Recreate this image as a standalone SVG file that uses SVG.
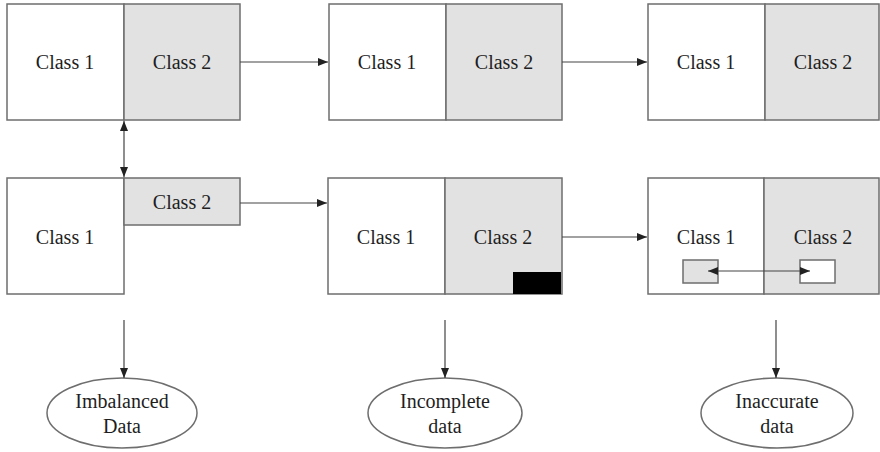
<svg xmlns="http://www.w3.org/2000/svg" width="880" height="452" viewBox="0 0 880 452">
<style>
.b{stroke:#6e6e6e;stroke-width:1.5;fill:#fff}
.g{stroke:#6e6e6e;stroke-width:1.5;fill:#e2e2e2}
.t{font-family:"Liberation Serif","Times New Roman",serif;font-size:20px;fill:#1e1e1e;text-anchor:middle}
.c{stroke:#444;stroke-width:1.2;fill:none}
</style>
<defs>
<marker id="ah" viewBox="0 0 10 8" refX="10" refY="4" markerWidth="10" markerHeight="8" markerUnits="userSpaceOnUse" orient="auto-start-reverse">
<path d="M0,0 L10,4 L0,8 z" fill="#222"/>
</marker>
</defs>
<rect width="880" height="452" fill="#fff"/>
<g id="top-left">
<rect class="b" x="7" y="4" width="117" height="116"/>
<rect class="g" x="124" y="4" width="116" height="116"/>
<text class="t" x="65" y="69">Class 1</text>
<text class="t" x="182" y="69">Class 2</text>
</g>
<g id="top-middle">
<rect class="b" x="329" y="4" width="117" height="116"/>
<rect class="g" x="446" y="4" width="116" height="116"/>
<text class="t" x="387" y="69">Class 1</text>
<text class="t" x="504" y="69">Class 2</text>
</g>
<g id="top-right">
<rect class="b" x="648" y="4" width="117" height="116"/>
<rect class="g" x="765" y="4" width="114" height="116"/>
<text class="t" x="706" y="69">Class 1</text>
<text class="t" x="823" y="69">Class 2</text>
</g>
<g id="bottom-left">
<rect class="b" x="7" y="178" width="117" height="116"/>
<rect class="g" x="124" y="178" width="116" height="47"/>
<text class="t" x="65" y="244">Class 1</text>
<text class="t" x="182" y="209">Class 2</text>
</g>
<g id="bottom-middle">
<rect class="b" x="328" y="178" width="117" height="116"/>
<rect class="g" x="445" y="178" width="117" height="116"/>
<rect x="513" y="272" width="48" height="22" fill="#000"/>
<text class="t" x="386" y="244">Class 1</text>
<text class="t" x="503" y="244">Class 2</text>
</g>
<g id="bottom-right">
<rect class="b" x="648" y="178" width="116" height="116"/>
<rect class="g" x="764" y="178" width="115" height="116"/>
<rect class="g" x="683" y="260" width="35" height="23"/>
<rect class="b" x="800" y="260" width="35" height="23"/>
<text class="t" x="706" y="244">Class 1</text>
<text class="t" x="823" y="244">Class 2</text>
</g>
<g id="imbalanced">
<ellipse class="b" cx="122" cy="413" rx="75" ry="35"/>
<text class="t" x="122" y="408">Imbalanced</text>
<text class="t" x="122" y="433">Data</text>
</g>
<g id="incomplete">
<ellipse class="b" cx="445" cy="413" rx="77" ry="35"/>
<text class="t" x="445" y="408">Incomplete</text>
<text class="t" x="445" y="433">data</text>
</g>
<g id="inaccurate">
<ellipse class="b" cx="777" cy="413" rx="76" ry="35"/>
<text class="t" x="777" y="408">Inaccurate</text>
<text class="t" x="777" y="433">data</text>
</g>
<g id="connectors">
<line class="c" x1="240" y1="62" x2="328" y2="62" marker-end="url(#ah)"/>
<line class="c" x1="562" y1="62" x2="647" y2="62" marker-end="url(#ah)"/>
<line class="c" x1="240" y1="203" x2="327" y2="203" marker-end="url(#ah)"/>
<line class="c" x1="562" y1="237" x2="647" y2="237" marker-end="url(#ah)"/>
<line class="c" x1="124" y1="121" x2="124" y2="177" marker-start="url(#ah)" marker-end="url(#ah)"/>
<line class="c" x1="708" y1="271" x2="810" y2="271" marker-start="url(#ah)" marker-end="url(#ah)"/>
<line class="c" x1="124" y1="320" x2="124" y2="378" marker-end="url(#ah)"/>
<line class="c" x1="445" y1="320" x2="445" y2="378" marker-end="url(#ah)"/>
<line class="c" x1="776" y1="320" x2="776" y2="378" marker-end="url(#ah)"/>
</g>
</svg>
